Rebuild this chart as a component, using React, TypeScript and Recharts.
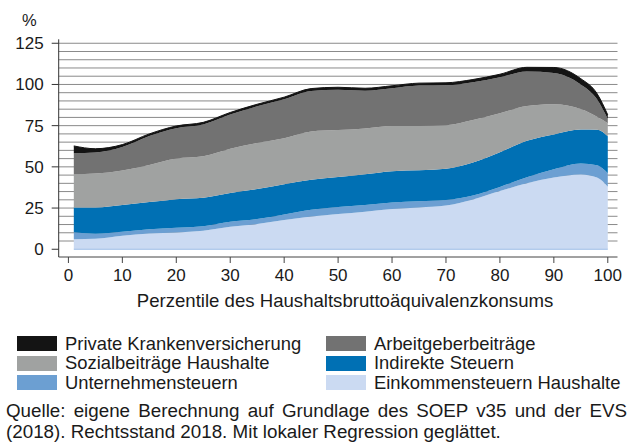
import React from "react";
import { AreaChart, Area, XAxis, YAxis, CartesianGrid, ReferenceLine } from "recharts";

const percentiles = [1, 5, 10, 15, 20, 25, 30, 35, 40, 45, 50, 55, 60, 65, 70, 75, 80, 85, 90, 95, 98, 100];
const einkommensteuern = [6.1, 6.4, 8.2, 9.5, 10.1, 11.2, 13.6, 15.3, 17.7, 19.8, 21.4, 22.8, 24.4, 25.4, 26.5, 30.2, 35.3, 40.0, 43.5, 45.3, 43.5, 38.0];
const unternehmensteuern = [4.2, 3.0, 2.4, 2.6, 3.0, 2.8, 3.1, 3.0, 3.4, 4.2, 4.2, 4.1, 4.0, 3.8, 3.4, 2.4, 2.5, 3.7, 5.0, 6.7, 7.5, 8.1];
const indirekteSteuern = [15.0, 15.9, 16.2, 16.5, 17.3, 17.3, 17.5, 18.3, 18.4, 18.2, 18.2, 18.6, 19.0, 18.7, 18.9, 20.0, 21.1, 22.1, 21.2, 20.6, 21.5, 22.4];
const sozialbeitraege = [20.2, 20.6, 21.0, 22.5, 24.6, 25.1, 26.8, 27.9, 27.9, 29.3, 28.5, 27.8, 27.4, 26.9, 26.4, 25.8, 23.6, 21.1, 18.3, 12.5, 7.9, 8.0];
const arbeitgeber = [12.7, 12.8, 14.2, 17.6, 18.5, 19.3, 20.7, 22.2, 23.6, 24.6, 24.5, 22.9, 22.9, 24.5, 24.3, 23.0, 21.9, 21.0, 19.0, 14.9, 10.6, 2.5];
const privateKV = [4.5, 2.3, 1.5, 1.3, 1.3, 1.3, 1.3, 1.3, 1.3, 1.4, 1.5, 1.5, 1.5, 1.5, 1.5, 1.6, 1.8, 2.5, 3.3, 3.5, 3.5, 2.5];

const xTicks = [0, 10, 20, 30, 40, 50, 60, 70, 80, 90, 100];
const yTicks = [0, 25, 50, 75, 100, 125];
const gridValues = [5, 10, 15, 20, 25, 30, 35, 40, 45, 50, 55, 60, 65, 70, 75, 80, 85, 90, 95, 100, 105, 110, 115, 120, 125];
const xDomain = [-1.8, 101.8];
const yDomain = [-4.7, 127.4];

const seriesKeys = ["ek", "un", "ind", "soz", "ag", "pkv"];
const seriesLabels = [
  "Einkommensteuern Haushalte",
  "Unternehmensteuern",
  "Indirekte Steuern",
  "Sozialbeiträge Haushalte",
  "Arbeitgeberbeiträge",
  "Private Krankenversicherung",
];
const seriesColors = ["#cbdaf2", "#6c9fd2", "#0070b4", "#a0a2a1", "#727272", "#141414"];
const seriesValues = [einkommensteuern, unternehmensteuern, indirekteSteuern, sozialbeitraege, arbeitgeber, privateKV];

// legend order (row-major, two columns)
const legendOrder = [5, 4, 3, 2, 1, 0];

const xTitle = "Perzentile des Haushaltsbruttoäquivalenzkonsums";
const yUnit = "%";
const sourceLine1 = "Quelle: eigene Berechnung auf Grundlage des SOEP v35 und der EVS";
const sourceLine2 = "(2018). Rechtsstand 2018. Mit lokaler Regression geglättet.";

const data = percentiles.map((p, i) => {
  const row: Record<string, number> = { p };
  seriesKeys.forEach((k, j) => {
    row[k] = seriesValues[j][i];
  });
  return row;
});

const FONT = "'Liberation Sans', Arial, Helvetica, sans-serif";

function gridGen(props: any) {
  const s = props?.yAxis?.scale;
  if (typeof s === "function") return gridValues.map((v) => s(v));
  if (s && typeof s.map === "function") return gridValues.map((v) => s.map(v));
  const off = props?.offset;
  if (!off) return [];
  const [lo, hi] = yDomain;
  return gridValues.map((v) => off.top + ((hi - v) / (hi - lo)) * off.height);
}

export default function App() {
  return (
    <div style={{ position: "absolute", left: 0, top: 0, width: 630, height: 445, background: "#fff", fontFamily: FONT, color: "#1a1a1a" }}>
      <div style={{ position: "absolute", left: 22, top: 10.5, fontSize: 16.5 }}>{yUnit}</div>
      <AreaChart
        width={630}
        height={300}
        data={data}
        margin={{ top: 39.3, right: 12.5, left: 8.7, bottom: 13 }}
        style={{ position: "absolute", left: 0, top: 0 }}
      >
        <CartesianGrid vertical={false} stroke="#8a8a8a" strokeWidth={1} horizontalCoordinatesGenerator={gridGen} />
        <XAxis
          dataKey="p"
          type="number"
          domain={xDomain}
          ticks={xTicks}
          allowDataOverflow
          height={30}
          tickSize={6}
          tickMargin={6}
          stroke="#444"
          tick={{ fill: "#1a1a1a", fontSize: 17, fontFamily: FONT }}
        />
        <YAxis
          type="number"
          domain={yDomain}
          ticks={yTicks}
          allowDataOverflow
          width={50}
          tickSize={7}
          tickMargin={8}
          stroke="#333"
          tick={{ fill: "#1a1a1a", fontSize: 17, fontFamily: FONT }}
        />
        {seriesKeys.map((k, j) => (
          <Area
            key={k}
            dataKey={k}
            stackId="s"
            type="monotone"
            fill={seriesColors[j]}
            fillOpacity={1}
            stroke={j === 5 ? "#141414" : "none"}
            strokeWidth={j === 5 ? 1 : 0}
            isAnimationActive={false}
            dot={false}
            activeDot={false}
          />
        ))}
        <ReferenceLine
          segment={[
            { x: percentiles[0], y: 0 },
            { x: percentiles[percentiles.length - 1], y: 0 },
          ]}
          stroke="#9dbde6"
          strokeWidth={1}
        />
      </AreaChart>
      <div style={{ position: "absolute", left: 345, top: 290, transform: "translateX(-50%)", fontSize: 18.6, whiteSpace: "nowrap" }}>{xTitle}</div>
      <div style={{ position: "absolute", left: 17, top: 334, width: 613, display: "grid", gridTemplateColumns: "309px 304px", rowGap: 0 }}>
        {legendOrder.map((j) => (
          <div key={j} style={{ display: "flex", alignItems: "center", height: 19.5, fontSize: 18.4, whiteSpace: "nowrap" }}>
            <span style={{ display: "inline-block", width: 40, height: 15, background: seriesColors[j], marginRight: 8, flexShrink: 0 }} />
            <span>{seriesLabels[j]}</span>
          </div>
        ))}
      </div>
      <div style={{ position: "absolute", left: 6, top: 400, width: 621, fontSize: 18.8, lineHeight: "21px" }}>
        <div style={{ textAlign: "justify", textAlignLast: "justify", whiteSpace: "nowrap" }}>{sourceLine1}</div>
        <div style={{ whiteSpace: "nowrap" }}>{sourceLine2}</div>
      </div>
    </div>
  );
}
